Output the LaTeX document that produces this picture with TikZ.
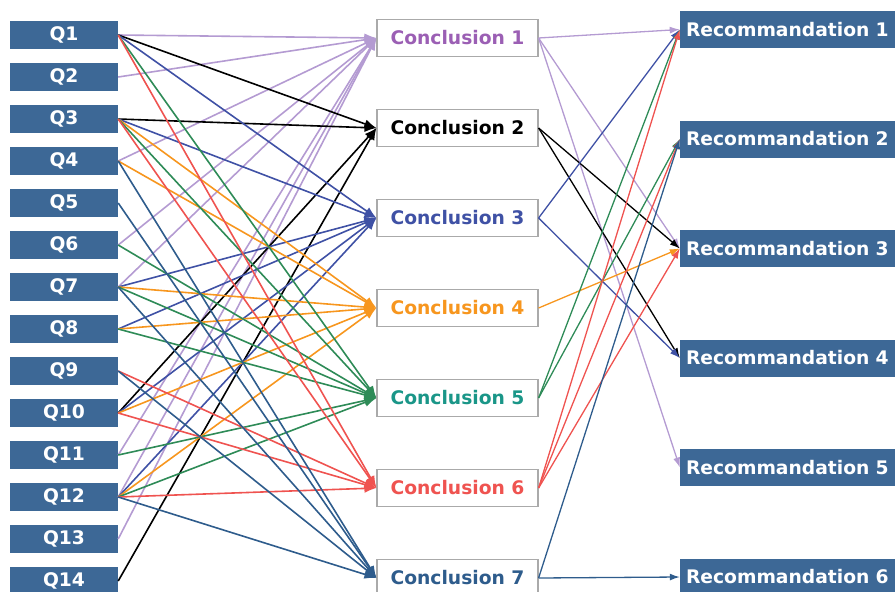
\documentclass[tikz,border=0pt]{standalone}
\usepackage{fontspec}
\setmainfont{DejaVu Sans}
\usetikzlibrary{arrows.meta}
\definecolor{qblue}{RGB}{61,104,150}
\definecolor{boxgray}{RGB}{170,170,170}
\definecolor{lavline}{RGB}{180,155,210}
\definecolor{lavtext}{RGB}{155,95,180}
\definecolor{blueline}{RGB}{63,81,165}
\definecolor{orangeline}{RGB}{247,150,30}
\definecolor{greenline}{RGB}{46,139,87}
\definecolor{tealtext}{RGB}{26,150,136}
\definecolor{redline}{RGB}{239,83,80}
\definecolor{dblue}{RGB}{46,92,140}
\begin{document}
\begin{tikzpicture}[x=1pt,y=-1pt,
  lbl/.style={font=\fontsize{18.7}{20}\selectfont\bfseries},
  qbox/.style={lbl,fill=qblue,text=white,minimum width=108pt,minimum height=28pt,inner sep=0pt},
  cbox/.style={lbl,draw=boxgray,line width=1.2pt,fill=white,minimum width=161pt,minimum height=37pt,inner sep=0pt},
  rbox/.style={lbl,fill=qblue,text=white,minimum height=37pt,text width=210pt,align=left,inner xsep=6pt,inner ysep=0pt},
  la/.style={line width=1.6pt,-{Latex[length=12pt,width=9pt]}},
  ra/.style={line width=1.3pt,-{Latex[length=10pt,width=7pt]}}]
\useasboundingbox (0,0) rectangle (895,592);
% question boxes
\foreach \i in {1,...,14} {
  \node[qbox] (q\i) at (64,{35+42*(\i-1)}) {Q\i};
}
% conclusion boxes
\node[cbox,text=lavtext]    (c1) at (457.5,38)  {Conclusion 1};
\node[cbox,text=black]      (c2) at (457.5,128) {Conclusion 2};
\node[cbox,text=blueline]   (c3) at (457.5,218) {Conclusion 3};
\node[cbox,text=orangeline] (c4) at (457.5,308) {Conclusion 4};
\node[cbox,text=tealtext]   (c5) at (457.5,398) {Conclusion 5};
\node[cbox,text=redline]    (c6) at (457.5,488) {Conclusion 6};
\node[cbox,text=dblue]      (c7) at (457.5,578) {Conclusion 7};
% recommendation boxes
\foreach \i in {1,...,6} {
  \node[rbox] (r\i) at (791,{29.5+109.5*(\i-1)}) {Recommandation \i};
}
% left connectors
\foreach \q in {1,2,4,6,7,11,12,13} \draw[la,lavline] (q\q.east) -- (c1.west);
\foreach \q in {1,3,10,14} \draw[la,black] (q\q.east) -- (c2.west);
\foreach \q in {1,3,7,8,10,12} \draw[la,blueline] (q\q.east) -- (c3.west);
\foreach \q in {3,4,7,8,10,12} \draw[la,orangeline] (q\q.east) -- (c4.west);
\foreach \q in {1,3,6,7,8,11,12} \draw[la,greenline] (q\q.east) -- (c5.west);
\foreach \q in {1,3,9,10,12} \draw[la,redline] (q\q.east) -- (c6.west);
\foreach \q in {4,5,7,9,12} \draw[la,dblue] (q\q.east) -- (c7.west);
% right connectors
\foreach \r in {1,3,5} \draw[ra,lavline] (c1.east) -- (r\r.west);
\foreach \r in {3,4} \draw[ra,black] (c2.east) -- (r\r.west);
\foreach \r in {1,4} \draw[ra,blueline] (c3.east) -- (r\r.west);
\draw[ra,orangeline] (c4.east) -- (r3.west);
\foreach \r in {1,2} \draw[ra,greenline] (c5.east) -- (r\r.west);
\foreach \r in {1,2,3} \draw[ra,redline] (c6.east) -- (r\r.west);
\foreach \r in {2,6} \draw[ra,dblue] (c7.east) -- (r\r.west);
\end{tikzpicture}
\end{document}
